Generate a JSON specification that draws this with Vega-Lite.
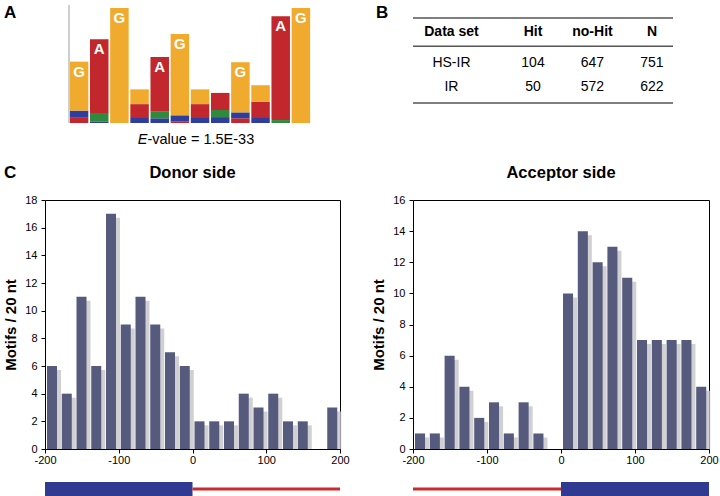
{
  "$schema": "https://vega.github.io/schema/vega-lite/v6.json",
  "padding": {"left": 3, "top": 3, "right": 2, "bottom": 2},
  "config": {
    "font": "Liberation Sans",
    "view": {"stroke": null},
    "text": {"font": "Liberation Sans"},
    "axis": {"labelFont": "Liberation Sans", "titleFont": "Liberation Sans", "domain": true, "ticks": true, "domainColor": "#000", "tickColor": "#000", "domainWidth": 1, "tickWidth": 1, "zindex": 1},
    "title": {"font": "Liberation Sans"}
  },
  "datasets": {
    "logo": [
      {"pos": 1, "base": "A", "bits": 0.10}, {"pos": 1, "base": "C", "bits": 0.11}, {"pos": 1, "base": "G", "bits": 0.83},
      {"pos": 2, "base": "C", "bits": 0.02}, {"pos": 2, "base": "T", "bits": 0.15}, {"pos": 2, "base": "A", "bits": 1.25},
      {"pos": 3, "base": "G", "bits": 1.95},
      {"pos": 4, "base": "C", "bits": 0.10}, {"pos": 4, "base": "A", "bits": 0.22}, {"pos": 4, "base": "G", "bits": 0.25},
      {"pos": 5, "base": "C", "bits": 0.08}, {"pos": 5, "base": "T", "bits": 0.12}, {"pos": 5, "base": "A", "bits": 0.92},
      {"pos": 6, "base": "A", "bits": 0.03}, {"pos": 6, "base": "C", "bits": 0.10}, {"pos": 6, "base": "G", "bits": 1.38},
      {"pos": 7, "base": "C", "bits": 0.10}, {"pos": 7, "base": "A", "bits": 0.22}, {"pos": 7, "base": "G", "bits": 0.25},
      {"pos": 8, "base": "C", "bits": 0.10}, {"pos": 8, "base": "T", "bits": 0.12}, {"pos": 8, "base": "A", "bits": 0.29},
      {"pos": 9, "base": "A", "bits": 0.08}, {"pos": 9, "base": "C", "bits": 0.10}, {"pos": 9, "base": "G", "bits": 0.85},
      {"pos": 10, "base": "C", "bits": 0.10}, {"pos": 10, "base": "A", "bits": 0.26}, {"pos": 10, "base": "G", "bits": 0.28},
      {"pos": 11, "base": "T", "bits": 0.05}, {"pos": 11, "base": "A", "bits": 1.76},
      {"pos": 12, "base": "G", "bits": 1.95}
    ],
    "table": [
      {"row": "header", "col": "Data set", "label": "Data set"},
      {"row": "header", "col": "Hit", "label": "Hit"},
      {"row": "header", "col": "no-Hit", "label": "no-Hit"},
      {"row": "header", "col": "N", "label": "N"},
      {"row": "HS-IR", "col": "Data set", "label": "HS-IR"},
      {"row": "HS-IR", "col": "Hit", "label": "104"},
      {"row": "HS-IR", "col": "no-Hit", "label": "647"},
      {"row": "HS-IR", "col": "N", "label": "751"},
      {"row": "IR", "col": "Data set", "label": "IR"},
      {"row": "IR", "col": "Hit", "label": "50"},
      {"row": "IR", "col": "no-Hit", "label": "572"},
      {"row": "IR", "col": "N", "label": "622"}
    ],
    "donor": [
      {"start": -200, "end": -180, "count": 6}, {"start": -180, "end": -160, "count": 4},
      {"start": -160, "end": -140, "count": 11}, {"start": -140, "end": -120, "count": 6},
      {"start": -120, "end": -100, "count": 17}, {"start": -100, "end": -80, "count": 9},
      {"start": -80, "end": -60, "count": 11}, {"start": -60, "end": -40, "count": 9},
      {"start": -40, "end": -20, "count": 7}, {"start": -20, "end": 0, "count": 6},
      {"start": 0, "end": 20, "count": 2}, {"start": 20, "end": 40, "count": 2},
      {"start": 40, "end": 60, "count": 2}, {"start": 60, "end": 80, "count": 4},
      {"start": 80, "end": 100, "count": 3}, {"start": 100, "end": 120, "count": 4},
      {"start": 120, "end": 140, "count": 2}, {"start": 140, "end": 160, "count": 2},
      {"start": 160, "end": 180, "count": 0}, {"start": 180, "end": 200, "count": 3}
    ],
    "acceptor": [
      {"start": -200, "end": -180, "count": 1}, {"start": -180, "end": -160, "count": 1},
      {"start": -160, "end": -140, "count": 6}, {"start": -140, "end": -120, "count": 4},
      {"start": -120, "end": -100, "count": 2}, {"start": -100, "end": -80, "count": 3},
      {"start": -80, "end": -60, "count": 1}, {"start": -60, "end": -40, "count": 3},
      {"start": -40, "end": -20, "count": 1}, {"start": -20, "end": 0, "count": 0},
      {"start": 0, "end": 20, "count": 10}, {"start": 20, "end": 40, "count": 14},
      {"start": 40, "end": 60, "count": 12}, {"start": 60, "end": 80, "count": 13},
      {"start": 80, "end": 100, "count": 11}, {"start": 100, "end": 120, "count": 7},
      {"start": 120, "end": 140, "count": 7}, {"start": 140, "end": 160, "count": 7},
      {"start": 160, "end": 180, "count": 7}, {"start": 180, "end": 200, "count": 4}
    ],
    "geneD": [{"part": "exon", "start": -200, "end": 0}, {"part": "intron", "start": 0, "end": 200}],
    "geneA": [{"part": "intron", "start": -200, "end": 0}, {"part": "exon", "start": 0, "end": 200}]
  },
  "bounds": "flush",
  "columns": 2,
  "spacing": {"row": 33, "column": 73},
  "concat": [
    {
      "width": 295,
      "height": 162,
      "data": {"name": "logo"},
      "transform": [
        {"stack": "bits", "groupby": ["pos"], "sort": [{"field": "bits", "order": "ascending"}], "as": ["b0", "b1"]}
      ],
      "layer": [
        {
          "mark": {"type": "bar", "width": 18.5},
          "encoding": {
            "x": {"field": "pos", "type": "quantitative", "scale": {"domain": [-0.69, 13.94], "nice": false, "zero": false, "padding": 0}, "axis": null},
            "y": {"field": "b0", "type": "quantitative", "scale": {"domain": [-0.7458, 2], "nice": false, "zero": false, "padding": 0}, "axis": null},
            "y2": {"field": "b1"},
            "color": {"field": "base", "type": "nominal", "scale": {"domain": ["A", "C", "G", "T"], "range": ["#c1272d", "#2d3e9e", "#f0aa2e", "#2f8a3e"]}, "legend": null}
          }
        },
        {
          "transform": [{"filter": "datum.bits > 0.35"}],
          "mark": {"type": "text", "color": "white", "fontWeight": "bold", "fontSize": 15, "baseline": "top", "dy": 3},
          "encoding": {
            "x": {"field": "pos", "type": "quantitative"},
            "y": {"field": "b1", "type": "quantitative"},
            "text": {"field": "base"}
          }
        },
        {
          "transform": [{"filter": "datum.pos == 1"}],
          "mark": {"type": "rule", "color": "#c8c8c8", "strokeWidth": 1},
          "encoding": {
            "x": {"datum": 0.5, "type": "quantitative"},
            "y": {"datum": 0, "type": "quantitative"},
            "y2": {"datum": 2}
          }
        },
        {
          "transform": [{"filter": "datum.pos == 3"}],
          "mark": {"type": "text", "text": "E", "fontStyle": "italic", "fontSize": 14.5, "align": "right", "baseline": "alphabetic", "color": "#000"},
          "encoding": {"x": {"datum": 4.39, "type": "quantitative"}, "y": {"datum": -0.356, "type": "quantitative"}}
        },
        {
          "transform": [{"filter": "datum.pos == 3"}],
          "mark": {"type": "text", "text": "-value = 1.5E-33", "fontSize": 14.5, "align": "left", "baseline": "alphabetic", "color": "#000"},
          "encoding": {"x": {"datum": 4.39, "type": "quantitative"}, "y": {"datum": -0.356, "type": "quantitative"}}
        },
        {
          "transform": [{"filter": "datum.pos == 3"}],
          "mark": {"type": "text", "text": "A", "fontWeight": "bold", "fontSize": 17, "align": "left", "baseline": "alphabetic", "color": "#000"},
          "encoding": {"x": {"datum": -2.72, "type": "quantitative"}, "y": {"datum": 1.78, "type": "quantitative"}}
        },
        {
          "transform": [{"filter": "datum.pos == 3"}],
          "mark": {"type": "text", "text": "B", "fontWeight": "bold", "fontSize": 17, "align": "left", "baseline": "alphabetic", "color": "#000"},
          "encoding": {"x": {"datum": 15.72, "type": "quantitative"}, "y": {"datum": 1.78, "type": "quantitative"}}
        },
        {
          "transform": [{"filter": "datum.pos == 3"}],
          "mark": {"type": "text", "text": "C", "fontWeight": "bold", "fontSize": 17, "align": "left", "baseline": "alphabetic", "color": "#000"},
          "encoding": {"x": {"datum": -2.72, "type": "quantitative"}, "y": {"datum": -0.93, "type": "quantitative"}}
        }
      ]
    },
    {
      "width": 260,
      "height": 162,
      "data": {"name": "table"},
      "encoding": {
        "x": {"field": "col", "type": "nominal", "scale": {"type": "point", "domain": ["Data set", "Hit", "no-Hit", "N"], "padding": 0.685, "align": 0.742}, "axis": null},
        "y": {"field": "row", "type": "nominal", "scale": {"type": "band", "domain": ["header", "HS-IR", "IR", "gap1", "gap2"], "paddingInner": 0, "paddingOuter": 0.358, "align": 0.64}, "axis": null}
      },
      "layer": [
        {
          "transform": [{"filter": "datum.col == 'Data set' && datum.row != 'IR'"}],
          "mark": {"type": "rule", "color": "#555555", "strokeWidth": 1.5},
          "encoding": {"x": null, "y": {"field": "row", "type": "nominal", "bandPosition": 0}}
        },
        {
          "transform": [{"filter": "datum.col == 'Data set' && datum.row == 'IR'"}],
          "mark": {"type": "rule", "color": "#555555", "strokeWidth": 1.5},
          "encoding": {"x": null, "y": {"field": "row", "type": "nominal", "bandPosition": 1}}
        },
        {
          "transform": [{"filter": "datum.row == 'header' && datum.col != 'Data set'"}],
          "mark": {"type": "text", "fontWeight": "bold", "fontSize": 14, "baseline": "middle", "color": "#000"},
          "encoding": {"y": {"field": "row", "type": "nominal", "bandPosition": 0.5}, "text": {"field": "label"}}
        },
        {
          "transform": [{"filter": "datum.row == 'header' && datum.col == 'Data set'"}],
          "mark": {"type": "text", "fontWeight": "bold", "fontSize": 14, "baseline": "middle", "color": "#000", "dx": -22},
          "encoding": {"y": {"field": "row", "type": "nominal", "bandPosition": 0.5}, "text": {"field": "label"}}
        },
        {
          "transform": [{"filter": "datum.row == 'HS-IR' && datum.col != 'Data set'"}],
          "mark": {"type": "text", "fontSize": 14, "baseline": "middle", "color": "#000", "dy": 3},
          "encoding": {"y": {"field": "row", "type": "nominal", "bandPosition": 0.5}, "text": {"field": "label"}}
        },
        {
          "transform": [{"filter": "datum.row == 'HS-IR' && datum.col == 'Data set'"}],
          "mark": {"type": "text", "fontSize": 14, "baseline": "middle", "color": "#000", "dx": -22, "dy": 3},
          "encoding": {"y": {"field": "row", "type": "nominal", "bandPosition": 0.5}, "text": {"field": "label"}}
        },
        {
          "transform": [{"filter": "datum.row == 'IR' && datum.col != 'Data set'"}],
          "mark": {"type": "text", "fontSize": 14, "baseline": "middle", "color": "#000", "dy": -2},
          "encoding": {"y": {"field": "row", "type": "nominal", "bandPosition": 0.5}, "text": {"field": "label"}}
        },
        {
          "transform": [{"filter": "datum.row == 'IR' && datum.col == 'Data set'"}],
          "mark": {"type": "text", "fontSize": 14, "baseline": "middle", "color": "#000", "dx": -22, "dy": -2},
          "encoding": {"y": {"field": "row", "type": "nominal", "bandPosition": 0.5}, "text": {"field": "label"}}
        }
      ]
    },
    {
      "width": 295,
      "height": 249,
      "title": {"text": "Donor side", "fontSize": 16.5, "fontWeight": "bold", "baseline": "alphabetic", "offset": 0, "frame": "group", "color": "#000"},
      "data": {"name": "donor"},
      "resolve": {"axis": {"x": "independent", "y": "independent"}},
      "layer": [
        {
          "transform": [{"filter": "datum.count > 0"}],
          "mark": {"type": "bar", "color": "#c4c4c8", "opacity": 0.8, "xOffset": 6, "x2Offset": 1.25, "yOffset": 4},
          "encoding": {
            "x": {"field": "start", "type": "quantitative", "scale": {"domain": [-200, 200], "nice": false, "padding": 0},
              "axis": {"values": [-200, -100, 0, 100, 200], "grid": false, "domain": true, "ticks": true, "tickSize": 4, "tickColor": "#000", "domainColor": "#000", "labelColor": "#000", "labelFontSize": 11, "labelPadding": 1, "labelFlush": false, "labelOverlap": false, "labelExpr": "'' + datum.value", "title": null}},
            "x2": {"field": "end"},
            "y": {"field": "count", "type": "quantitative", "scale": {"domain": [0, 18], "nice": false},
              "axis": {"values": [0, 2, 4, 6, 8, 10, 12, 14, 16, 18], "grid": false, "domain": true, "ticks": true, "tickSize": 4, "tickColor": "#000", "domainColor": "#000", "labelColor": "#000", "labelFontSize": 11, "labelPadding": 4, "labelFlush": false, "labelOverlap": false, "title": "Motifs / 20 nt", "titleFontSize": 15, "titleFontWeight": "bold", "titleColor": "#000", "titlePadding": 6}},
            "y2": {"datum": 0}
          }
        },
        {
          "mark": {"type": "bar", "color": "#565a7c", "xOffset": 2, "x2Offset": -2.75},
          "encoding": {
            "x": {"field": "start", "type": "quantitative", "axis": {"orient": "top", "labels": false, "ticks": false, "domain": true, "grid": false, "domainColor": "#000", "title": null}},
            "x2": {"field": "end"},
            "y": {"field": "count", "type": "quantitative", "axis": {"orient": "right", "labels": false, "ticks": false, "domain": true, "grid": false, "domainColor": "#000", "title": null}},
            "y2": {"datum": 0}
          }
        }
      ]
    },
    {
      "width": 296,
      "height": 249,
      "title": {"text": "Acceptor side", "fontSize": 16.5, "fontWeight": "bold", "baseline": "alphabetic", "offset": 0, "frame": "group", "color": "#000"},
      "data": {"name": "acceptor"},
      "resolve": {"axis": {"x": "independent", "y": "independent"}},
      "layer": [
        {
          "transform": [{"filter": "datum.count > 0"}],
          "mark": {"type": "bar", "color": "#c4c4c8", "opacity": 0.8, "xOffset": 6, "x2Offset": 1.25, "yOffset": 4},
          "encoding": {
            "x": {"field": "start", "type": "quantitative", "scale": {"domain": [-200, 200], "nice": false, "padding": 0},
              "axis": {"values": [-200, -100, 0, 100, 200], "grid": false, "domain": true, "ticks": true, "tickSize": 4, "tickColor": "#000", "domainColor": "#000", "labelColor": "#000", "labelFontSize": 11, "labelPadding": 1, "labelFlush": false, "labelOverlap": false, "labelExpr": "'' + datum.value", "title": null}},
            "x2": {"field": "end"},
            "y": {"field": "count", "type": "quantitative", "scale": {"domain": [0, 16], "nice": false},
              "axis": {"values": [0, 2, 4, 6, 8, 10, 12, 14, 16], "grid": false, "domain": true, "ticks": true, "tickSize": 4, "tickColor": "#000", "domainColor": "#000", "labelColor": "#000", "labelFontSize": 11, "labelPadding": 4, "labelFlush": false, "labelOverlap": false, "title": "Motifs / 20 nt", "titleFontSize": 15, "titleFontWeight": "bold", "titleColor": "#000", "titlePadding": 6}},
            "y2": {"datum": 0}
          }
        },
        {
          "mark": {"type": "bar", "color": "#565a7c", "xOffset": 2, "x2Offset": -2.75},
          "encoding": {
            "x": {"field": "start", "type": "quantitative", "axis": {"orient": "top", "labels": false, "ticks": false, "domain": true, "grid": false, "domainColor": "#000", "title": null}},
            "x2": {"field": "end"},
            "y": {"field": "count", "type": "quantitative", "axis": {"orient": "right", "labels": false, "ticks": false, "domain": true, "grid": false, "domainColor": "#000", "title": null}},
            "y2": {"datum": 0}
          }
        }
      ]
    },
    {
      "width": 295,
      "height": 14,
      "data": {"name": "geneD"},
      "layer": [
        {
          "transform": [{"filter": "datum.part == 'exon'"}],
          "mark": {"type": "rect", "color": "#2f3a90"},
          "encoding": {
            "x": {"field": "start", "type": "quantitative", "scale": {"domain": [-200, 200], "nice": false}, "axis": null},
            "x2": {"field": "end"}
          }
        },
        {
          "transform": [{"filter": "datum.part == 'intron'"}],
          "mark": {"type": "rule", "strokeWidth": 3, "color": "#cc2a2e"},
          "encoding": {
            "x": {"field": "start", "type": "quantitative"},
            "x2": {"field": "end"},
            "y": {"datum": 0.5, "type": "quantitative", "scale": {"domain": [0, 1]}, "axis": null}
          }
        }
      ]
    },
    {
      "width": 296,
      "height": 14,
      "data": {"name": "geneA"},
      "layer": [
        {
          "transform": [{"filter": "datum.part == 'exon'"}],
          "mark": {"type": "rect", "color": "#2f3a90"},
          "encoding": {
            "x": {"field": "start", "type": "quantitative", "scale": {"domain": [-200, 200], "nice": false}, "axis": null},
            "x2": {"field": "end"}
          }
        },
        {
          "transform": [{"filter": "datum.part == 'intron'"}],
          "mark": {"type": "rule", "strokeWidth": 3, "color": "#cc2a2e"},
          "encoding": {
            "x": {"field": "start", "type": "quantitative"},
            "x2": {"field": "end"},
            "y": {"datum": 0.5, "type": "quantitative", "scale": {"domain": [0, 1]}, "axis": null}
          }
        }
      ]
    }
  ]
}
